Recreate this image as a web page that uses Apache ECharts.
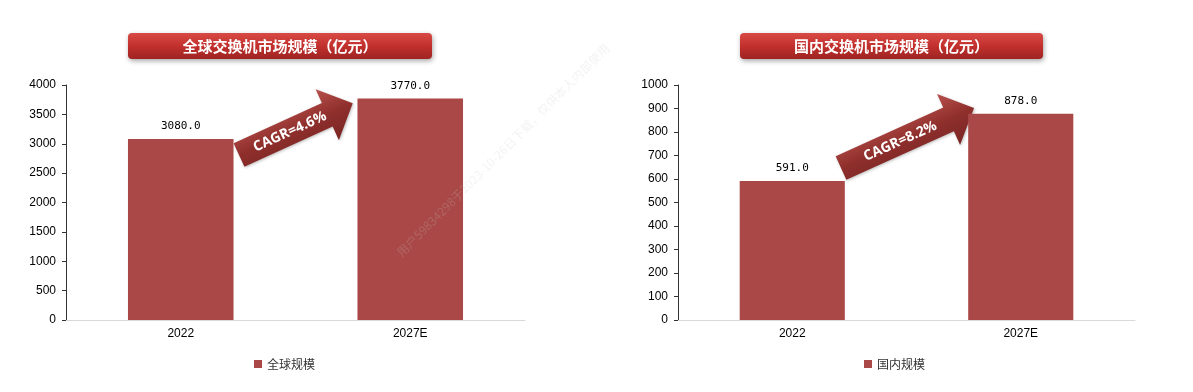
<!DOCTYPE html>
<html>
<head>
<meta charset="utf-8">
<script src="https://cdn.jsdelivr.net/npm/echarts@6/dist/echarts.min.js"></script>
<style>
html,body{margin:0;padding:0;background:#fff;}
#c{width:1193px;height:392px;}
</style>
</head>
<body>
<div id="c"></div>
<script>
// ---- data ----
const categories = ['2022', '2027E'];
const globalValues = [3080.0, 3770.0];
const domesticValues = [591.0, 878.0];
const globalName = '全球规模';
const domesticName = '国内规模';
const globalTitle = '全球交换机市场规模（亿元）';
const domesticTitle = '国内交换机市场规模（亿元）';
const globalCagr = 'CAGR=4.6%';
const domesticCagr = 'CAGR=8.2%';
const globalAxis = {min: 0, max: 4000, interval: 500};
const domesticAxis = {min: 0, max: 1000, interval: 100};
const watermark = '用户59834298于2023-10-26日下载，仅供本人内部使用';

const barColor = '#a94846';
const chart = echarts.init(document.getElementById('c'), null, {renderer: 'canvas'});

function titleBox(x, y, w, h, text) {
  return {
    type: 'group', x: x, y: y,
    children: [
      {type: 'rect', shape: {x: 0, y: 0, width: w, height: h, r: 4},
       style: {
         fill: new echarts.graphic.LinearGradient(0, 0, 0, 1, [
           {offset: 0, color: '#d84a45'},
           {offset: 0.5, color: '#c2302d'},
           {offset: 1, color: '#9e2422'}
         ]),
         shadowBlur: 5, shadowOffsetX: 1, shadowOffsetY: 2, shadowColor: 'rgba(0,0,0,0.35)'
       }},
      {type: 'text', x: w / 2, y: h / 2,
       style: {text: text, fill: '#fff', font: 'bold 15px "Noto Sans CJK SC"', align: 'center', verticalAlign: 'middle'}}
    ]
  };
}

function arrow(x, y, angleDeg, L, text, textPos) {
  const sw = 13, hw = 28, hl = 28;
  return {
    type: 'group', x: x, y: y, rotation: angleDeg * Math.PI / 180,
    children: [
      {type: 'polygon',
       shape: {points: [[0, -sw], [L - hl, -sw], [L - hl, -hw], [L, 0], [L - hl, hw], [L - hl, sw], [0, sw]]},
       style: {
         fill: new echarts.graphic.LinearGradient(0, 0, 0, 1, [
           {offset: 0, color: '#b8504c'},
           {offset: 0.5, color: '#8f2f2c'},
           {offset: 1, color: '#7a2624'}
         ]),
         shadowBlur: 3, shadowOffsetX: 1, shadowOffsetY: 1, shadowColor: 'rgba(0,0,0,0.25)'
       }},
      {type: 'text', x: textPos, y: 0,
       style: {text: text, fill: '#fff', font: 'bold 14px "Open Sans"', align: 'center', verticalAlign: 'middle'}}
    ]
  };
}

function yAxis(gi, cfg) {
  return {
    type: 'value', gridIndex: gi, min: cfg.min, max: cfg.max, interval: cfg.interval,
    axisLine: {show: true, lineStyle: {color: '#333', width: 1}},
    axisTick: {show: true, length: 4, lineStyle: {color: '#333'}},
    splitLine: {show: false},
    axisLabel: {color: '#000', fontSize: 12, fontFamily: 'Liberation Sans', margin: 10,
                formatter: v => String(v)}
  };
}
function xAxis(gi) {
  return {
    type: 'category', gridIndex: gi, data: categories,
    axisLine: {show: true, lineStyle: {color: '#d9d9d9', width: 1}},
    axisTick: {show: false},
    axisLabel: {color: '#000', fontSize: 12, fontFamily: 'Liberation Sans', margin: 8}
  };
}
function bar(name, gi, data) {
  return {
    name: name, type: 'bar', xAxisIndex: gi, yAxisIndex: gi, data: data,
    barWidth: '46%', itemStyle: {color: barColor},
    label: {show: true, position: 'top', distance: 7, color: '#000',
            fontFamily: 'DejaVu Sans Mono', fontSize: 11,
            formatter: p => p.value.toFixed(1)}
  };
}

chart.setOption({
  animation: false,
  grid: [
    {left: 66, top: 85, width: 459, height: 235},
    {left: 678, top: 85, width: 457, height: 235}
  ],
  xAxis: [xAxis(0), xAxis(1)],
  yAxis: [yAxis(0, globalAxis), yAxis(1, domesticAxis)],
  legend: [
    {data: [{name: globalName, icon: 'rect'}], left: 249, top: 353, itemWidth: 8, itemHeight: 8, itemGap: 4,
     textStyle: {color: '#333', fontSize: 12, fontFamily: '"Noto Sans CJK SC"'}},
    {data: [{name: domesticName, icon: 'rect'}], left: 859, top: 353, itemWidth: 8, itemHeight: 8, itemGap: 4,
     textStyle: {color: '#333', fontSize: 12, fontFamily: '"Noto Sans CJK SC"'}}
  ],
  series: [bar(globalName, 0, globalValues), bar(domesticName, 1, domesticValues)],
  graphic: [
    {type: 'text', x: 503, y: 150, rotation: 45 * Math.PI / 180,
     style: {text: watermark, fill: 'rgba(200,200,200,0.22)', font: '12px "Noto Sans CJK SC"', align: 'center', verticalAlign: 'middle'}, z: 100},
    titleBox(128, 33, 304, 26, globalTitle),
    titleBox(740, 33, 303, 26, domesticTitle),
    arrow(239, 155, 24.5, 125, globalCagr, 56),
    arrow(841, 168, 24.3, 146, domesticCagr, 65)
  ]
});
</script>
</body>
</html>
